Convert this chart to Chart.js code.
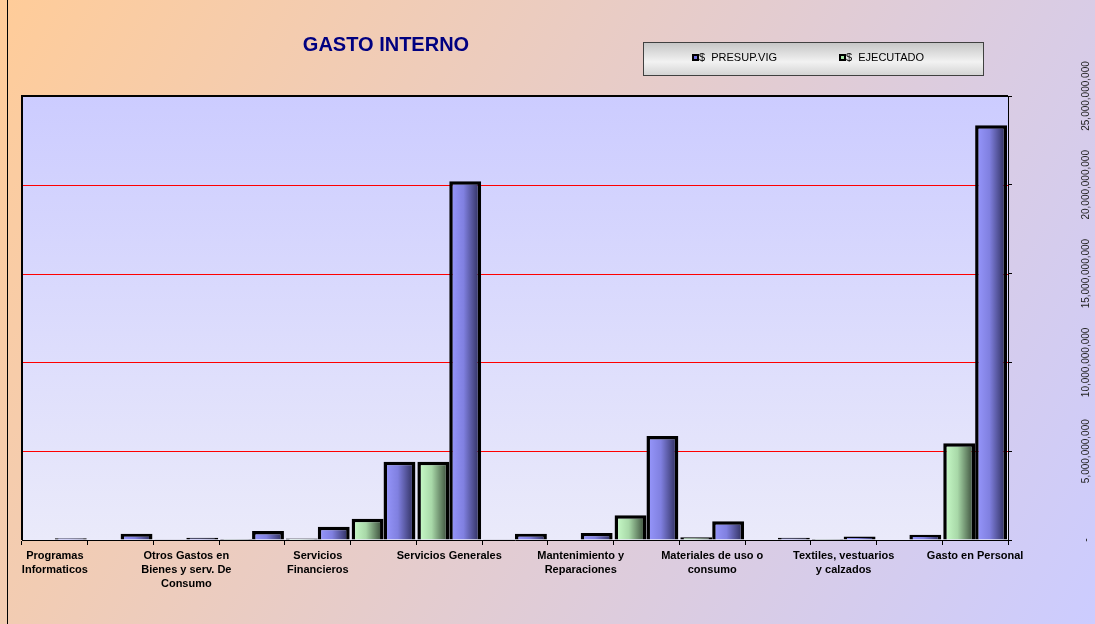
<!DOCTYPE html>
<html>
<head>
<meta charset="utf-8">
<script src="https://cdn.jsdelivr.net/npm/chart.js@4.4.0/dist/chart.umd.min.js"></script>
<style>
html, body { margin: 0; padding: 0; }
</style>
</head>
<body>
<canvas id="myChart" width="1095" height="624"></canvas>
<script>
// every other category label is skipped, like in the original sheet
const categories = [
    ['Programas', 'Informaticos'], '',
    ['Otros Gastos en', 'Bienes y serv. De', 'Consumo'], '',
    ['Servicios', 'Financieros'], '',
    'Servicios Generales', '',
    ['Mantenimiento y', 'Reparaciones'], '',
    ['Materiales de uso o', 'consumo'], '',
    ['Textiles, vestuarios', 'y calzados'], '',
    'Gasto en Personal'
];
const ejecutado = [0, 0, 0.02e9, 0.05e9, 0.08e9, 1.2e9, 4.4e9, 0.02e9, 0.03e9, 1.4e9, 0.15e9, 0, 0.05e9, 0.03e9, 5.45e9];
const presupVig = [0.1e9, 0.35e9, 0.12e9, 0.5e9, 0.75e9, 4.4e9, 20.2e9, 0.35e9, 0.4e9, 5.85e9, 1.05e9, 0.12e9, 0.2e9, 0.3e9, 23.35e9];
const yTicks = [0, 5e9, 10e9, 15e9, 20e9, 25e9];

const FONT = '"Liberation Sans", Arial, sans-serif';
const CAT_PCT = 0.97;

// horizontal light->dark gradient across each bar
function barFill(light, mid, dark, side) {
    return ctx => {
        const chart = ctx.chart;
        if (!chart.chartArea || ctx.type !== 'data') return light;
        const xs = chart.scales.x;
        const cx = xs.getPixelForValue(ctx.dataIndex);
        const bw = xs.width / categories.length * CAT_PCT / 2;
        const x0 = side < 0 ? cx - bw : cx;
        const g = chart.ctx.createLinearGradient(x0, 0, x0 + bw, 0);
        g.addColorStop(0, light);
        g.addColorStop(0.45, mid);
        g.addColorStop(1, dark);
        return g;
    };
}

const backdrop = {
    id: 'backdrop',
    beforeDraw(chart) {
        const { ctx, width, height, chartArea: a } = chart;
        ctx.save();
        let g = ctx.createLinearGradient(0, 0, width, height);
        g.addColorStop(0, '#ffcc99');
        g.addColorStop(1, '#ccccff');
        ctx.fillStyle = g;
        ctx.fillRect(0, 0, width, height);
        g = ctx.createLinearGradient(0, a.top, 0, a.bottom);
        g.addColorStop(0, '#ccccff');
        g.addColorStop(1, '#eaeafa');
        ctx.fillStyle = g;
        ctx.fillRect(a.left, a.top, a.right - a.left, a.bottom - a.top);
        ctx.restore();
    },
    beforeDatasetsDraw(chart) {
        // red value gridlines
        const { ctx, chartArea: a } = chart;
        const ys = chart.scales.y;
        ctx.save();
        ctx.strokeStyle = '#ff0000';
        ctx.lineWidth = 1;
        yTicks.slice(1, -1).forEach(v => {
            const y = Math.round(ys.getPixelForValue(v)) + 0.5;
            ctx.beginPath();
            ctx.moveTo(a.left, y);
            ctx.lineTo(a.right, y);
            ctx.stroke();
        });
        ctx.restore();
    },
    afterDraw(chart) {
        const { ctx, height, chartArea: a } = chart;
        ctx.save();
        // outer frame line on the left
        ctx.strokeStyle = '#000';
        ctx.lineWidth = 1;
        ctx.beginPath();
        ctx.moveTo(7.5, 0);
        ctx.lineTo(7.5, height);
        ctx.stroke();
        // plot frame
        ctx.lineWidth = 2;
        ctx.beginPath();
        ctx.moveTo(a.left, a.bottom);
        ctx.lineTo(a.left, a.top);
        ctx.lineTo(a.right, a.top);
        ctx.stroke();

        // title
        ctx.fillStyle = '#000080';
        ctx.font = 'bold 20px ' + FONT;
        ctx.textAlign = 'center';
        ctx.textBaseline = 'middle';
        ctx.fillText('GASTO INTERNO', 386, 45);

        // y labels, rotated, on the right
        const ys = chart.scales.y;
        ctx.fillStyle = '#222';
        ctx.font = '10px ' + FONT;
        ys.ticks.forEach((t, i) => {
            const y = ys.getPixelForTick(i);
            ctx.save();
            ctx.translate(ys.left + 78, y);
            ctx.rotate(-Math.PI / 2);
            ctx.fillText(t.value === 0 ? '-' : t.value.toLocaleString('en-US'), 0, 0);
            ctx.restore();
        });

        // legend box
        const lx = 643, ly = 42, lw = 340, lh = 33;
        const g = ctx.createLinearGradient(0, ly, 0, ly + lh);
        g.addColorStop(0, '#c4c4c4');
        g.addColorStop(0.6, '#f2f2f2');
        g.addColorStop(1, '#d4d4d4');
        ctx.fillStyle = g;
        ctx.fillRect(lx, ly, lw, lh);
        ctx.lineWidth = 1;
        ctx.strokeStyle = '#404040';
        ctx.strokeRect(lx + 0.5, ly + 0.5, lw, lh);
        const items = [
            { ds: 1, x: 692, color: '#7070e0' },
            { ds: 0, x: 839, color: '#a8e8a8' }
        ];
        ctx.font = '11px ' + FONT;
        ctx.textAlign = 'left';
        items.forEach(it => {
            ctx.fillStyle = '#000';
            ctx.fillRect(it.x, 54, 7, 7);
            ctx.fillStyle = it.color;
            ctx.fillRect(it.x + 2, 56, 3, 3);
            ctx.fillStyle = '#000';
            ctx.fillText(chart.data.datasets[it.ds].label, it.x + 7, 58);
        });
        ctx.restore();
    }
};

const canvas = document.getElementById('myChart');
new Chart(canvas, {
    type: 'bar',
    data: {
        labels: categories,
        datasets: [
            {
                label: '$  EJECUTADO',
                data: ejecutado,
                backgroundColor: barFill('#ccffcc', '#a8d8a8', '#2e3e2e', -1),
                borderColor: '#000',
                borderWidth: 3.5,
                categoryPercentage: CAT_PCT,
                barPercentage: 1
            },
            {
                label: '$  PRESUP.VIG',
                data: presupVig,
                backgroundColor: barFill('#9999ff', '#8080e0', '#262650', 1),
                borderColor: '#000',
                borderWidth: 3.5,
                categoryPercentage: CAT_PCT,
                barPercentage: 1
            }
        ]
    },
    options: {
        responsive: false,
        devicePixelRatio: 1,
        animation: false,
        layout: { padding: { left: 22, top: 96, right: 0, bottom: 0 } },
        plugins: {
            legend: { display: false },
            tooltip: { enabled: false },
            title: { display: false }
        },
        scales: {
            x: {
                grid: {
                    display: true,
                    drawOnChartArea: false,
                    color: '#000',
                    tickLength: 5,
                    offset: true
                },
                border: { color: '#000', width: 1 },
                ticks: {
                    autoSkip: false,
                    maxRotation: 0,
                    minRotation: 0,
                    padding: 4,
                    color: '#000',
                    font: { family: FONT, size: 11, weight: 'bold', lineHeight: 1.27 }
                },
                afterFit: s => { s.height = 84; }
            },
            y: {
                position: 'right',
                min: 0,
                max: yTicks[yTicks.length - 1],
                afterBuildTicks: s => { s.ticks = yTicks.map(v => ({ value: v })); },
                grid: {
                    drawOnChartArea: false,
                    color: '#000',
                    tickLength: 4
                },
                border: { color: '#000', width: 1 },
                ticks: { display: false },
                afterFit: s => { s.width = 87; }
            }
        }
    },
    plugins: [backdrop]
});
</script>
</body>
</html>
